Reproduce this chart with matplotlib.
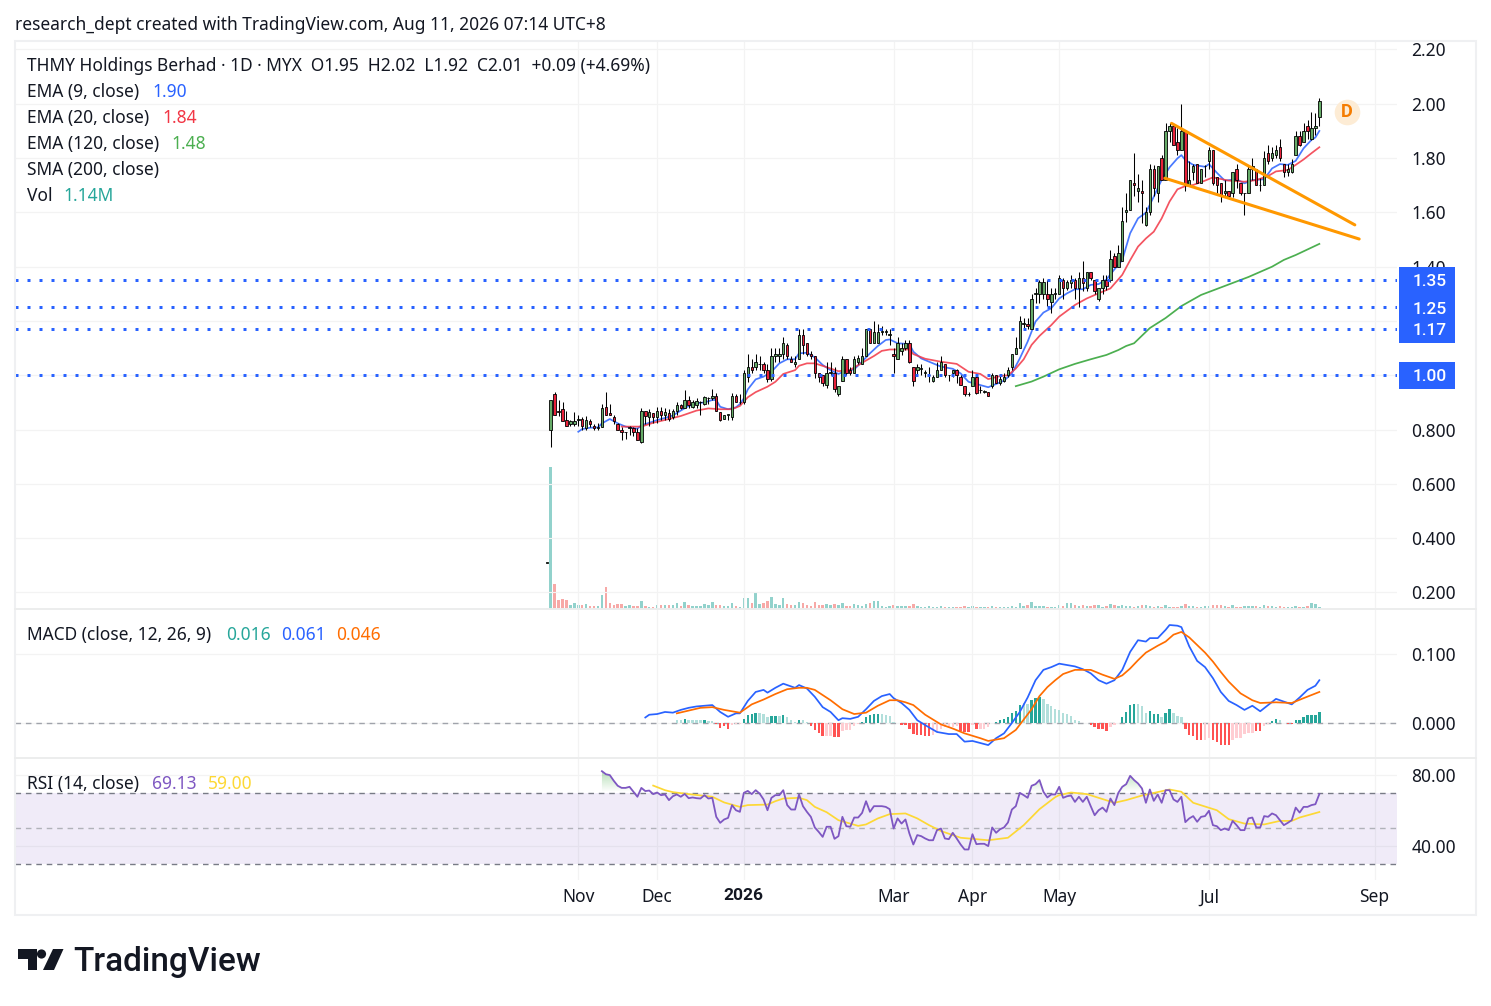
import numpy as np
import matplotlib
matplotlib.use("Agg")
import matplotlib.pyplot as plt
from matplotlib.patches import Rectangle, Polygon, Circle
from matplotlib.path import Path
import matplotlib.transforms as mtrans
from matplotlib import font_manager as fm

opens = [.31,
.80,.93,.87,.875,.835,.82,.82,.835,.84,.805,
.83,.815,.805,.81,.885,.86,.845,.82,.80,.79,
.805,.805,.79,.755,.87,.845,.86,.845,.87,.855,
.86,.845,.87,.89,.88,.91,.885,.89,.90,.895,
.915,.915,.925,.865,.84,.855,.845,.925,.90,.90,
.995,1.03,1.03,1.04,1.04,1.02,.985,1.07,1.07,1.08,
1.11,1.06,1.04,1.06,1.15,1.12,1.08,1.07,1.01,1.0,
.965,1.01,1.01,.93,.98,1.06,1.02,1.01,1.05,1.04,
1.07,1.17,1.12,1.12,1.16,1.16,1.15,1.08,1.06,1.09,
1.10,1.12,1.03,1.02,1.025,1.01,1.0,.98,.995,1.02,
1.04,1.0,1.01,1.02,.995,.96,.93,.96,.995,.945,
.94,.94,.96,1.0,.97,.98,1.0,1.03,1.08,1.10,
1.19,1.19,1.17,1.30,1.30,1.30,1.30,1.27,1.30,1.30,
1.35,1.32,1.34,1.35,1.32,1.36,1.32,1.38,1.35,1.28,
1.32,1.35,1.35,1.44,1.40,1.42,1.60,1.61,1.71,1.68,
1.68,1.555,1.60,1.76,1.67,1.80,1.72,1.90,1.92,1.86,
1.83,1.90,1.70,1.75,1.78,1.71,1.77,1.79,1.83,1.73,
1.71,1.67,1.68,1.67,1.76,1.71,1.67,1.67,1.76,1.76,
1.70,1.70,1.82,1.80,1.81,1.84,1.78,1.75,1.75,1.81,
1.88,1.86,1.92,1.87,1.91,1.95]
highs = [.31,
.91,.94,.91,.90,.87,.835,.865,.855,.845,.85,
.84,.82,.825,.895,.94,.895,.855,.825,.81,.79,
.815,.81,.805,.88,.87,.875,.86,.885,.885,.88,
.875,.875,.90,.895,.945,.925,.91,.915,.905,.925,
.92,.95,.935,.865,.855,.855,.935,.93,.93,1.02,
1.08,1.06,1.08,1.07,1.05,1.04,1.10,1.10,1.10,1.14,
1.12,1.07,1.07,1.17,1.17,1.12,1.09,1.07,1.01,1.0,
1.05,1.05,1.03,.96,1.07,1.06,1.03,1.07,1.075,1.10,
1.17,1.17,1.20,1.19,1.18,1.17,1.17,1.10,1.14,1.12,
1.13,1.13,1.03,1.04,1.04,1.02,1.03,1.0,1.05,1.07,
1.04,1.0,1.02,1.025,1.0,.96,.94,1.02,1.0,.96,
.945,.94,1.01,1.0,1.0,1.01,1.03,1.08,1.14,1.22,
1.21,1.21,1.30,1.32,1.35,1.36,1.35,1.32,1.32,1.37,
1.36,1.35,1.37,1.36,1.38,1.42,1.38,1.38,1.35,1.32,
1.37,1.37,1.46,1.45,1.48,1.62,1.67,1.72,1.82,1.74,
1.72,1.62,1.78,1.775,1.77,1.81,1.93,1.93,1.93,1.91,
2.0,1.90,1.79,1.78,1.78,1.76,1.775,1.84,1.83,1.73,
1.71,1.72,1.68,1.75,1.78,1.71,1.67,1.775,1.80,1.76,
1.725,1.825,1.85,1.84,1.85,1.87,1.78,1.78,1.795,1.90,
1.90,1.93,1.94,1.97,1.965,2.02]
lows = [.31,
.735,.855,.85,.83,.815,.815,.815,.815,.80,.80,
.81,.80,.80,.81,.855,.855,.82,.80,.76,.765,
.78,.775,.76,.75,.82,.815,.825,.825,.835,.835,
.83,.84,.855,.875,.88,.88,.88,.88,.855,.89,
.895,.91,.87,.83,.84,.835,.835,.90,.895,.895,
.975,1.01,1.02,1.02,1.01,.975,.98,1.05,1.05,1.06,
1.06,1.05,1.03,1.06,1.08,1.07,1.06,.99,.975,.96,
.955,1.0,.94,.925,.98,1.0,1.0,1.01,1.04,1.04,
1.07,1.12,1.12,1.12,1.15,1.15,1.11,1.01,1.06,1.075,
1.095,1.045,.96,1.0,1.0,.995,.975,.975,.995,1.02,
.995,.98,.995,.97,.965,.925,.925,.96,.93,.935,
.935,.925,.955,.97,.965,.975,.995,1.02,1.08,1.10,
1.17,1.17,1.17,1.265,1.265,1.28,1.255,1.23,1.28,1.30,
1.28,1.315,1.32,1.28,1.25,1.31,1.31,1.35,1.30,1.275,
1.30,1.315,1.345,1.40,1.40,1.42,1.565,1.61,1.66,1.64,
1.56,1.55,1.59,1.66,1.64,1.72,1.72,1.86,1.85,1.81,
1.83,1.68,1.70,1.72,1.71,1.71,1.73,1.76,1.70,1.67,
1.64,1.655,1.65,1.655,1.69,1.665,1.59,1.67,1.72,1.70,
1.68,1.70,1.78,1.79,1.80,1.79,1.73,1.735,1.745,1.81,
1.845,1.86,1.87,1.865,1.885,1.92]
closes = [.31,
.91,.855,.865,.83,.815,.83,.83,.84,.815,.835,
.82,.805,.81,.88,.855,.855,.83,.80,.79,.79,
.81,.79,.76,.87,.85,.865,.845,.87,.855,.865,
.84,.87,.89,.88,.91,.89,.90,.905,.90,.92,
.915,.925,.87,.835,.855,.855,.925,.90,.90,1.01,
1.03,1.02,1.05,1.04,1.02,.985,1.07,1.08,1.08,1.12,
1.07,1.05,1.05,1.15,1.11,1.08,1.07,1.01,.995,.97,
1.01,1.01,.95,.96,1.06,1.01,1.01,1.06,1.065,1.07,
1.17,1.12,1.16,1.16,1.16,1.16,1.15,1.07,1.12,1.10,
1.12,1.05,.98,1.03,1.025,1.01,1.0,.995,1.02,1.05,
1.0,1.0,1.02,1.0,.965,.93,.93,.995,.935,.945,
.94,.925,1.0,.97,.985,.995,1.02,1.08,1.10,1.20,
1.19,1.18,1.28,1.30,1.345,1.345,1.28,1.30,1.30,1.36,
1.32,1.345,1.35,1.32,1.36,1.34,1.38,1.36,1.31,1.32,
1.35,1.33,1.43,1.40,1.45,1.57,1.61,1.72,1.70,1.69,
1.67,1.60,1.76,1.69,1.77,1.72,1.90,1.92,1.85,1.83,
1.90,1.70,1.72,1.77,1.71,1.76,1.77,1.83,1.71,1.70,
1.66,1.68,1.66,1.75,1.72,1.67,1.67,1.76,1.77,1.70,
1.70,1.80,1.79,1.82,1.83,1.80,1.75,1.76,1.78,1.88,
1.85,1.90,1.90,1.91,1.92,2.01]
volumes_m = [.6,
85.2,15,5.4,6,5.4,2.4,3.6,2.4,2.4,2.8,
1.8,1.8,1.8,8.4,13.2,3.6,2.4,3,3,1.8,
2.4,1.8,1.8,4.8,1.8,1.2,1.2,2.4,2.4,2.4,
2.4,2.4,3.6,1.8,4.2,2.4,1.8,1.8,1.8,3,
2.4,4.2,2.4,2.4,1.8,1.8,3.6,1.8,1.2,6.6,
6.6,3.6,9.6,3,3.6,4.8,7.2,3,2.4,6.6,
3,2.4,2.4,4.2,3.6,2.6,1.8,4.4,2.4,2.4,
3.2,2.6,3.2,2.6,3.8,1.8,1.8,3.2,2.6,1.8,
3.2,3.8,5,5,1.8,1.2,1.8,2.4,1.8,1.8,
1.8,1.8,3.2,1.8,1.2,1.2,1.8,1.2,1.2,1.8,
1.2,1.2,1.2,1.2,1.2,1.8,1.2,1.8,1.2,1.2,
1.2,1.2,1.8,1.2,1.2,1.2,1.2,1.8,1.2,3.8,
1.8,2.4,4.4,1.8,1.8,1.8,1.2,1.2,1.2,2.6,
1.8,3.8,3.8,2.4,1.8,2.4,1.8,1.8,2.4,2.4,
1.2,1.8,3.2,2.6,1.8,2.4,1.8,1.8,1.2,1.8,
2.6,2.6,1.8,1.2,1.8,1.2,2.6,1.2,1.2,1.2,
1.8,3.2,1.8,1.8,1.2,1.2,1.8,1.8,2.6,2.6,
2.4,1.8,1.2,2.6,1.2,1.2,1.8,1.8,1.8,1.8,
1.2,2.6,1.8,1.8,1.2,1.8,1.2,1.2,1.2,1.8,
1.2,1.2,1.8,3.8,3.2,1.14]

ema9_days = [7,8,10,12,13,15,17,19,22,23,25,27,29,31,33,35,37,39,41,42,43,45,47,48,49,50,52,54,56,58,60,62,63,65,67,69,71,73,75,77,79,81,83,85,86,88,91,92,94,96,99,102,104,106,108,111,113,115,117,119,121,123,125,127,129,131,133,135,137,139,141,143,145,146,147,149,151,153,155,157,159,160,161,163,166,167,169,171,174,176,178,181,183,185,187,189,191,193,194,195]
ema9_vals = [.792,.802,.807,.808,.823,.839,.823,.811,.803,.816,.825,.835,.843,.852,.870,.887,.897,.900,.909,.909,.884,.875,.882,.894,.915,.948,.985,.995,1.013,1.044,1.059,1.059,1.081,1.083,1.066,1.038,1.019,1.005,1.017,1.022,1.05,1.081,1.108,1.130,1.132,1.118,1.115,1.087,1.062,1.05,1.032,1.024,1.007,.976,.968,.956,.968,.980,1.007,1.062,1.124,1.198,1.231,1.247,1.283,1.302,1.317,1.317,1.333,1.336,1.353,1.39,1.424,1.474,1.523,1.578,1.599,1.658,1.72,1.766,1.799,1.811,1.793,1.775,1.768,1.778,1.746,1.717,1.722,1.707,1.719,1.722,1.762,1.778,1.775,1.79,1.836,1.867,1.876,1.90]
ema20_days = [18,23,26,30,33,37,40,43,46,48,50,52,55,57,59,62,63,65,67,70,73,76,79,82,84,86,91,92,95,99,103,106,109,111,114,116,118,120,122,124,127,129,133,136,139,142,145,147,149,151,153,155,157,159,161,163,166,168,172,176,179,182,184,187,189,191,193,195]
ema20_vals = [.811,.811,.825,.839,.85,.87,.878,.875,.875,.887,.919,.938,.958,.976,1.005,1.019,1.035,1.044,1.044,1.03,1.015,1.02,1.046,1.071,1.09,1.095,1.095,1.078,1.061,1.05,1.042,1.013,1.005,.986,.997,1.0,1.025,1.059,1.112,1.145,1.185,1.216,1.259,1.283,1.302,1.32,1.37,1.424,1.474,1.504,1.529,1.578,1.64,1.685,1.697,1.701,1.717,1.729,1.717,1.713,1.719,1.734,1.751,1.756,1.775,1.795,1.818,1.84]
ema120_days = [118,122,125,129,133,137,141,144,146,148,152,156,160,165,171,177,183,186,189,195]
ema120_vals = [.96,.977,.995,1.022,1.042,1.059,1.075,1.093,1.108,1.118,1.174,1.211,1.255,1.296,1.329,1.362,1.40,1.425,1.443,1.484]

level_prices = [1.35, 1.25, 1.17, 1.00]
wedge_upper_days = [157.5, 204]
wedge_upper_vals = [1.928, 1.554]
wedge_lower_days = [155.8, 205.1]
wedge_lower_vals = [1.726, 1.502]

macd_days = [24,25,27,29,31,33,35,37,39,41,43,45,47,48,50,52,54,55,57,59,62,63,65,67,69,71,73,74,76,78,80,82,84,86,87,89,91,93,95,98,101,103,105,107,111,113,115,117,119,121,123,125,127,129,131,133,135,137,139,141,143,145,147,149,151,152,154,156,157,159,160,162,164,166,168,170,172,174,176,178,180,182,184,186,188,190,192,194,195]
macd_vals = [.008,.012,.013,.016,.015,.019,.022,.024,.025,.026,.016,.009,.014,.014,.032,.045,.048,.044,.051,.057,.051,.055,.05,.038,.023,.016,.004,.007,.006,.009,.02,.032,.039,.042,.036,.029,.019,.004,-.003,-.013,-.016,-.016,-.027,-.026,-.032,-.022,-.015,0,.016,.037,.062,.077,.081,.086,.084,.082,.078,.072,.062,.057,.062,.077,.103,.12,.118,.123,.123,.135,.142,.141,.139,.111,.09,.081,.065,.045,.032,.026,.019,.025,.017,.026,.035,.031,.027,.037,.048,.054,.062]
signal_days = [32,35,38,41,44,48,51,54,57,60,63,65,67,71,74,77,80,83,86,88,90,92,95,99,102,105,109,111,115,118,120,122,124,126,128,130,133,137,140,143,145,147,149,151,154,156,158,160,162,164,166,168,170,172,175,178,180,184,188,191,195]
signal_vals = [.014,.018,.022,.023,.019,.015,.027,.034,.042,.049,.051,.051,.048,.033,.02,.013,.015,.025,.033,.033,.03,.026,.012,-.002,-.008,-.015,-.022,-.026,-.022,-.01,.005,.02,.039,.052,.062,.071,.077,.077,.07,.064,.069,.079,.091,.102,.112,.118,.128,.132,.124,.113,.102,.089,.074,.06,.043,.033,.029,.03,.029,.036,.045]
hist_first_day = 32
hist_vals = [.004,.004,.006,.004,.004,.004,.004,.004,.003,.003,
-.001,-.007,-.005,-.009,-.003,-.0015,-.0015,.006,.011,.0125,
.015,.015,.013,.009,.010,.010,.010,.0115,.008,.005,
.002,.004,.004,.0015,-.004,-.010,-.014,-.019,-.019,-.019,
-.020,-.020,-.012,-.010,-.010,-.005,-.002,.0015,.008,.011,
.013,.013,.013,.011,.010,.002,.0003,-.003,-.003,-.009,
-.016,-.017,-.017,-.019,-.019,-.017,-.0125,-.009,-.006,-.006,
-.006,-.005,-.011,-.0125,-.0135,-.003,-.009,-.009,-.008,-.006,
-.0005,.0015,.004,.006,.008,.014,.017,.026,.029,.028,
.033,.036,.037,.035,.028,.024,.020,.019,.015,.013,
.010,.004,.003,.0003,.0003,-.003,-.006,-.009,-.009,-.011,
-.006,-.003,.0003,.009,.016,.026,.028,.027,.024,.014,
.017,.013,.013,.009,.015,.020,.015,.010,.009,-.008,
-.017,-.019,-.025,-.025,-.024,-.022,-.025,-.028,-.032,-.032,
-.032,-.025,-.022,-.021,-.016,-.015,-.014,-.012,-.012,-.005,
-.002,.003,.006,.004,.0005,-.002,-.002,.004,.005,.009,
.011,.012,.012,.016]
hist_shades = ("LLSLLLLSLL" "RRRRPPP" "SSSS" "LLL" "SS" "L" "S" "LLL" "S" "LL" "RRRR" "PP" "RR" "PPPPP"
               "SSSSS" "LLLL" "L" "RRRRRRRR" "PPPPPPP" "RRR" "P" "R" "PPPP" "SSSSSSS" "LL" "SSS"
               "LLLLLLLLLLLL" "RRRRR" "PP" "L" "SSSS" "LLL" "SSS" "L" "SS" "LLL" "RRRRR" "PP" "RRRRR"
               "PPPPPP" "RR" "PP" "SS" "LL" "RR" "SSSSSSS")

rsi_first_day = 13
rsi_vals = [82,80.3,79.8,76.6,73.8,72.6,72.6,73.2,70.4,67.6,72.6,70.8,71.1,69.1,70,68.5,68.9,65.7,67.9,68.9,
67.6,69.2,66.8,67.2,66.8,66.6,68.5,66.6,67,56.3,52.9,54.8,55.7,62.9,60,59.1,69.8,70.9,69.1,71.3,
69.4,66.1,60,67,68.5,68.5,71.3,62.9,60.4,60.4,68.9,62.3,59.1,56.3,50.3,47.8,45,50.7,50.7,43.9,
45.4,56.3,51,50.7,55.9,55.9,58.5,65.1,59.1,62.3,62.3,62.3,61.9,60.6,49.7,55.4,52.5,54.8,46.9,40.7,
46,45.4,44.1,43.1,43.1,48.8,49.7,44.1,43.7,47.3,44.1,40.7,37.9,37.9,46.5,40.9,41.1,41.1,39.8,50.3,
47.3,49.3,50.3,53.1,60.4,62.3,69.8,68.5,67,73.8,74.7,77,70.4,67.2,68.9,68.9,73.2,67,67.9,68.3,
64.7,67.6,64.7,67.6,62.3,57.2,60,61.5,59.1,66.6,62.9,69.8,73.2,74.7,79.4,77,75.1,72.3,64.2,71.7,
65.3,68.9,64.2,71.3,71.3,66.1,64.7,67.6,53.3,55.4,56.7,53.5,56.3,56.7,59.7,51.6,51,48.8,49.7,48.8,
54,51.6,48.8,48.8,55.4,55.9,50.3,50.3,56.7,56.3,58.2,57.2,54.4,51.6,52.9,54.4,61.5,58.7,61.9,61.9,
62.9,63.4,69.1]
rsi_ma_days = [26,29,31,35,41,44,48,50,55,57,59,63,65,67,70,73,78,80,83,86,90,93,96,99,104,111,116,120,124,128,129,132,136,143,146,150,157,160,163,169,172,176,181,185,188,190,195]
rsi_ma_vals = [73.9,71.3,70.2,69.1,67.6,64.4,61.9,62.9,63.2,65.1,66.6,67,65.7,61.9,58.9,54.4,51.2,52,55.4,57.8,58.2,55.4,51.6,48.3,44.5,43.1,44.5,51.6,60.6,67.4,68.5,70,69.1,64.2,65.7,68.3,71.7,70.4,64.2,60,55,52.5,52,54,54,55.9,59]
rsi_bands = [70, 50, 30]

price_ticks = [2.2,2.0,1.8,1.6,1.4,1.2,1.0,.8,.6,.4,.2]
price_labels = ["2.20","2.00","1.80","1.60","1.40","","","0.800","0.600","0.400","0.200"]
macd_ticks = [.1, 0]
macd_labels = ["0.100","0.000"]
rsi_ticks = [80, 40]
rsi_labels = ["80.00","40.00"]
month_days = [7,27,49,87,107,129,167,209]
month_labels = ["Nov","Dec","2026","Mar","Apr","May","Jul","Sep"]

for fam in ("Noto Sans", "Roboto", "Open Sans", "Lato", "Inter", "Liberation Sans"):
    print(fam, sorted({(f.weight, f.fname.split('/')[-1]) for f in fm.fontManager.ttflist if f.name == fam and f.style == "normal"}, key=str)[:6])

FONT = ["Noto Sans", "DejaVu Sans"]
BOLD = ["Roboto", "DejaVu Sans"]
plt.rcParams["font.family"] = FONT
W, H = 1491, 1006
INK = "#131722"
BLUE, RED, GREEN, TEAL, ORANGE = "#2962ff", "#f23645", "#4caf50", "#26a69a", "#ff6d00"
PURPLE, YELLOW = "#7e57c2", "#fdd835"
GRID = "#f3f3f3"
FS = 12.5

fig = plt.figure(figsize=(W/100, H/100), dpi=100, facecolor="white")
def pane(x0, y0, x1, y1):
    return fig.add_axes([x0/W, 1-y1/H, (x1-x0)/W, (y1-y0)/H], facecolor="none")

X0, X1 = 15, 1397
ax = pane(X0, 41, X1, 609)
am = pane(X0, 609, X1, 758)
ar = pane(X0, 758, X1, 880)
av = ax.twinx()
av.set_zorder(ax.get_zorder()-1)
ax.patch.set_visible(False)
xlim = (-135.9, 214.7)

days = np.arange(len(closes)) - 1
o, h, l, c = map(np.array, (opens, highs, lows, closes))
up = c >= o

# volume
av.bar(days, volumes_m, width=.62, color=np.where(up, "#92d2cc", "#f7a9a7"), zorder=1)
av.set_ylim(0, 568/1.667)
av.set_xlim(*xlim)
av.axis("off")

# overlays and candles
ax.plot(ema9_days, ema9_vals, color=BLUE, lw=1.25, alpha=.85, zorder=3)
ax.plot(ema20_days, ema20_vals, color=RED, lw=1.25, alpha=.85, zorder=3)
ax.plot(ema120_days, ema120_vals, color=GREEN, lw=1.25, zorder=3)
ax.vlines(days, l, h, color="black", lw=.75, zorder=4)
ax.bar(days, np.maximum(np.abs(c-o), .002), bottom=np.minimum(o, c), width=.62,
       color=np.where(up, "#66ab68", "#e8213a"), edgecolor="black", lw=.6, zorder=5)
for lvl in level_prices:
    ax.axhline(lvl, color=BLUE, lw=2.16, ls=(0, (1, 3)), dash_capstyle="butt", zorder=6)
ax.plot(wedge_upper_days, wedge_upper_vals, color="#ff9800", lw=2.2, solid_capstyle="round", zorder=7)
ax.plot(wedge_lower_days, wedge_lower_vals, color="#ff9800", lw=2.2, solid_capstyle="round", zorder=7)
ax.scatter([201.9], [1.971], s=340, color="#fdecd5", lw=0, zorder=7)
ax.text(201.9, 1.971, "D", color="#f57c00", fontsize=13, ha="center", va="center", zorder=8,
        family=BOLD, fontweight="bold")

ax.set_xlim(*xlim)
ax.set_ylim(.1392, 2.2313)
ax.set_yticks(price_ticks, price_labels)

# MACD
hist_days = np.arange(len(hist_vals)) + hist_first_day
shade = {"S": "#26a69a", "L": "#b2dfdb", "R": "#ff5252", "P": "#ffcdd2"}
am.bar(hist_days, hist_vals, width=.6, color=[shade[s] for s in hist_shades], zorder=2)
am.axhline(0, color="#a0a3ab", lw=1.0, ls=(0, (4, 3.5)), zorder=1)
am.plot(macd_days, macd_vals, color=BLUE, lw=1.25, zorder=3)
am.plot(signal_days, signal_vals, color=ORANGE, lw=1.25, zorder=4)
am.set_xlim(*xlim)
am.set_ylim(-.0507, .1652)
am.set_yticks(macd_ticks, macd_labels)

# RSI
ar.axhspan(min(rsi_bands), max(rsi_bands), color=PURPLE, alpha=.115, lw=0, zorder=1)
for b, col in zip(rsi_bands, ("#787b86", "#b0b2b9", "#787b86")):
    ar.axhline(b, color=col, lw=1.0, ls=(0, (4, 3.5)), zorder=2)
rsi_days = np.arange(len(rsi_vals)) + rsi_first_day
rsi_arr = np.array(rsi_vals)
poly = ar.fill_between(rsi_days, 70, rsi_arr, where=rsi_arr > 70, interpolate=True, color="none", lw=0)
grad = np.zeros((64, 2, 4))
grad[..., :3] = matplotlib.colors.to_rgb(GREEN)
grad[..., 3] = np.linspace(.42, 0, 64)[:, None]
im = ar.imshow(grad, extent=(rsi_days[0]-1, rsi_days[-1]+1, 70, 82), origin="upper", aspect="auto", zorder=2)
im.set_clip_path(Path.make_compound_path(*poly.get_paths()), ar.transData)
ar.plot(rsi_ma_days, rsi_ma_vals, color=YELLOW, lw=1.25, zorder=3)
ar.plot(rsi_days, rsi_vals, color=PURPLE, lw=1.3, zorder=4)
ar.set_xlim(*xlim)
ar.set_ylim(70-(880-792.5)/1.775, 70+(792.5-758)/1.775)
ar.set_yticks(rsi_ticks, rsi_labels)

for a in (ax, am, ar):
    for s in a.spines.values():
        s.set_visible(False)
    a.yaxis.tick_right()
    a.tick_params(axis="y", length=0, pad=10.4, labelsize=FS, labelcolor=INK)
    a.set_xticks(month_days)
    a.grid(True, color=GRID, lw=.85, zorder=0)
    a.set_axisbelow(True)
    a.tick_params(axis="x", length=0, labelbottom=False)
ar.tick_params(axis="x", labelbottom=True, labelsize=FS, labelcolor=INK, pad=6)
ar.set_xticklabels(month_labels)
bold_tick = ar.get_xticklabels()[2]
bold_tick.set_family(BOLD)
bold_tick.set_fontweight("bold")

# level boxes on price scale
trans = mtrans.blended_transform_factory(ax.transAxes, ax.transData)
def fx(px):
    return (px-X0)/(X1-X0)
for lvl in level_prices:
    ax.add_patch(Rectangle((fx(1399), lvl-.05), fx(1455)-fx(1399), .1, transform=trans,
                           clip_on=False, facecolor=BLUE, edgecolor="none", zorder=9))
for lvl in level_prices:
    ax.annotate(f"{lvl:.2f}", (fx(1413), lvl), xycoords=trans, xytext=(0, -1.2), textcoords="offset points",
                color="white", fontsize=FS, va="center", ha="left", annotation_clip=False, zorder=10,
                family=BOLD, fontweight="medium")

# page furniture in pixel coordinates
ov = fig.add_axes([0, 0, 1, 1], facecolor="none", zorder=20)
ov.set_xlim(0, W); ov.set_ylim(H, 0); ov.axis("off")
ov.add_patch(Rectangle((15, 41), 1461, 874, fill=False, edgecolor="#eff0f2", lw=1.5))
for y in (609, 758):
    ov.plot([15, 1476], [y, y], color="#eceded", lw=1.4)

def t(x, y, s, color=INK, **kw):
    kw.setdefault("fontsize", FS)
    ov.text(x, y + 1.6, s, color=color, va="center", ha="left", **kw)

t(15, 23, "research_dept created with TradingView.com, Aug 11, 2026 07:14 UTC+8")
t(27, 64, "THMY Holdings Berhad · 1D · MYX  O1.95  H2.02  L1.92  C2.01  +0.09 (+4.69%)")
t(27, 90, "EMA (9, close)");   t(152, 90, "1.90", BLUE)
t(27, 116, "EMA (20, close)"); t(162, 116, "1.84", RED)
t(27, 142, "EMA (120, close)"); t(171, 142, "1.48", GREEN)
t(27, 168, "SMA (200, close)")
t(27, 194, "Vol"); t(63, 194, "1.14M", TEAL)
t(27, 633, "MACD (close, 12, 26, 9)")
t(226, 633, "0.016", TEAL); t(281, 633, "0.061", BLUE); t(336, 633, "0.046", ORANGE)
t(27, 782, "RSI (14, close)"); t(152, 782, "69.13", PURPLE); t(208, 782, "59.00", YELLOW)

# logo
ov.add_patch(Polygon([(18, 949), (37, 949), (37, 970), (28, 970), (28, 959), (18, 959)], color="#131722", lw=0))
ov.add_patch(Circle((41.5, 954), 4.6, color="#131722", lw=0))
ov.add_patch(Polygon([(53, 949), (63.5, 949), (54, 970), (43, 970)], color="#131722", lw=0))
ov.text(73, 961.5, "TradingView", color="#131722", fontsize=24, va="center", ha="left",
        family=BOLD, fontweight="medium")

fig.savefig("out.png", dpi=100, facecolor="white")
